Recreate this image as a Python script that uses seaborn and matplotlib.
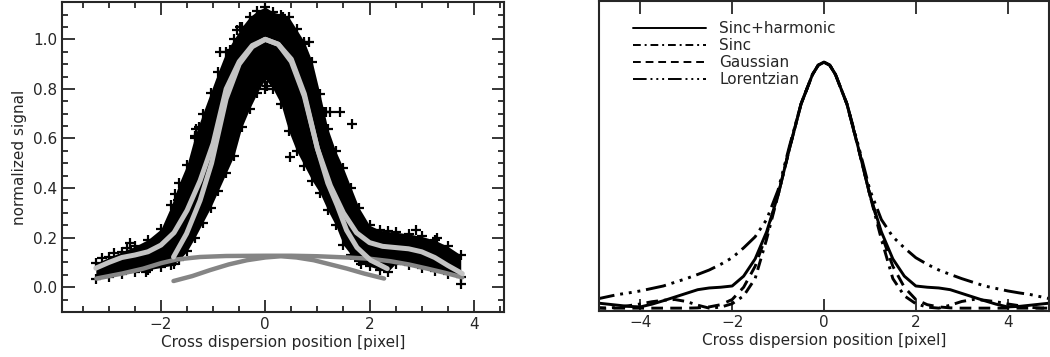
import numpy as np
import pandas as pd
import matplotlib
matplotlib.use("Agg")
import matplotlib.pyplot as plt
import seaborn as sns

# ---- left panel: measured profile (dense band + scattered points) ----
band_x = [-3.25, -3.0, -2.75, -2.5, -2.25, -2.0, -1.8, -1.65, -1.5, -1.35, -1.2, -1.05,
          -0.9, -0.75, -0.6, -0.45, -0.3, -0.15, 0.0, 0.15, 0.3, 0.45, 0.6, 0.75, 0.9,
          1.05, 1.2, 1.35, 1.5, 1.65, 1.8, 2.0, 2.2, 2.35, 2.5, 2.75, 3.0, 3.25, 3.5, 3.75]
band_hi = [0.097, 0.12, 0.143, 0.165, 0.192, 0.235, 0.33, 0.42, 0.495, 0.61, 0.70, 0.785,
           0.87, 0.95, 1.00, 1.05, 1.09, 1.115, 1.13, 1.11, 1.10, 1.09, 1.04, 0.99, 0.91,
           0.78, 0.64, 0.55, 0.48, 0.40, 0.32, 0.25, 0.23, 0.225, 0.222, 0.215, 0.205, 0.19, 0.165, 0.13]
band_lo = [0.035, 0.042, 0.052, 0.062, 0.07, 0.08, 0.088, 0.11, 0.145, 0.20, 0.26, 0.32,
           0.39, 0.46, 0.53, 0.645, 0.72, 0.785, 0.84, 0.80, 0.74, 0.63, 0.55, 0.49, 0.43,
           0.38, 0.31, 0.25, 0.17, 0.13, 0.105, 0.085, 0.07, 0.062, 0.095, 0.088, 0.078, 0.065, 0.052, 0.04]

out_x = [-3.14, -2.6, -2.66, -2.28, -1.73, -1.67, -1.35, -1.33, -1.28, -1.25, -0.87, -0.67,
         -0.54, -0.48, 0.0, 0.03, 0.48, 0.83, 0.74, 0.35, 1.06, 1.12, 1.17, 1.25, 1.44,
         1.67, 1.83, -1.76, 3.75, 2.9, 3.3, -2.9]
out_y = [0.116, 0.18, 0.16, 0.06, 0.378, 0.35, 0.60, 0.64, 0.646, 0.62, 0.95, 0.956,
         1.036, 1.05, 0.80, 0.81, 0.525, 0.99, 0.98, 1.09, 0.707, 0.707, 0.707, 0.707, 0.707,
         0.66, 0.095, 0.095, 0.015, 0.23, 0.20, 0.14]

# ---- left panel: fitted curves ----
fit_wide_x = [-3.25, -3.0, -2.75, -2.5, -2.25, -2.0, -1.75, -1.5, -1.25, -1.0, -0.75, -0.5,
              -0.25, 0.0, 0.25, 0.5, 0.75, 1.0, 1.25, 1.5, 1.75, 2.0, 2.25, 2.5, 2.75,
              3.0, 3.25, 3.5, 3.78]
fit_wide_y = [0.077, 0.10, 0.12, 0.13, 0.143, 0.17, 0.22, 0.31, 0.43, 0.58, 0.80, 0.91,
              0.975, 1.0, 0.98, 0.92, 0.78, 0.56, 0.41, 0.30, 0.22, 0.18, 0.165, 0.16, 0.155,
              0.143, 0.12, 0.088, 0.055]
fit_narrow_x = [-1.76, -1.51, -1.25, -1.03, -0.75, -0.5, -0.25, 0.0, 0.25, 0.5, 0.75, 1.0,
                1.2, 1.38, 1.56, 1.76, 2.02, 2.34]
fit_narrow_y = [0.122, 0.216, 0.35, 0.50, 0.76, 0.90, 0.97, 1.0, 0.98, 0.91, 0.77, 0.56,
                0.42, 0.33, 0.23, 0.16, 0.109, 0.075]
harm_wide_x = [-3.24, -2.75, -2.34, -2.0, -1.7, -1.25, -0.75, 0.0, 0.5, 1.0, 1.57, 2.0,
               2.4, 2.75, 3.11, 3.45, 3.78]
harm_wide_y = [0.035, 0.055, 0.075, 0.097, 0.112, 0.122, 0.126, 0.127, 0.127, 0.125, 0.12,
               0.115, 0.105, 0.092, 0.075, 0.058, 0.04]
harm_narrow_x = [-1.76, -1.4, -1.06, -0.7, -0.35, 0.0, 0.3, 0.6, 0.93, 1.25, 1.57, 1.9, 2.28]
harm_narrow_y = [0.025, 0.045, 0.069, 0.092, 0.109, 0.12, 0.125, 0.12, 0.109, 0.092, 0.075,
                 0.055, 0.035]

# ---- right panel: model profiles ----
model_x = [-5.0, -4.75, -4.5, -4.25, -4.0, -3.75, -3.5, -3.25, -3.0, -2.75, -2.5, -2.25,
           -2.0, -1.75, -1.5, -1.25, -1.0, -0.75, -0.5, -0.25, -0.125, 0.0, 0.125, 0.25,
           0.5, 0.75, 1.0, 1.25, 1.5, 1.75, 2.0, 2.25, 2.5, 2.75, 3.0, 3.25, 3.5, 3.75,
           4.0, 4.25, 4.5, 4.75, 5.0]
sinc_harm = [0.022, 0.017, 0.012, 0.007, 0.005, 0.016, 0.03, 0.045, 0.06, 0.075, 0.082, 0.085,
             0.09, 0.13, 0.20, 0.31, 0.46, 0.65, 0.83, 0.95, 0.988, 1.0, 0.988, 0.95,
             0.83, 0.65, 0.46, 0.31, 0.20, 0.13, 0.09, 0.085, 0.082, 0.075, 0.06, 0.045, 0.03, 0.016,
             0.005, 0.007, 0.012, 0.017, 0.022]
sinc = [0.003, 0.0, 0.003, 0.01, 0.017, 0.026, 0.032, 0.035, 0.027, 0.012, 0.0, 0.004,
        0.018, 0.05, 0.12, 0.28, 0.46, 0.65, 0.83, 0.95, 0.988, 1.0, 0.988, 0.95,
        0.83, 0.65, 0.46, 0.28, 0.12, 0.05, 0.018, 0.004, 0.0, 0.012, 0.027, 0.035, 0.032, 0.026,
        0.017, 0.01, 0.003, 0.0, 0.003]
gauss = [0.0, 0.0, 0.0, 0.0, 0.0, 0.0, 0.0, 0.0, 0.0, 0.001, 0.005, 0.014,
         0.035, 0.085, 0.17, 0.30, 0.46, 0.65, 0.83, 0.95, 0.988, 1.0, 0.988, 0.95,
         0.83, 0.65, 0.46, 0.30, 0.17, 0.085, 0.035, 0.014, 0.005, 0.001, 0.0, 0.0, 0.0, 0.0,
         0.0, 0.0, 0.0, 0.0, 0.0]
lorentz = [0.035, 0.045, 0.055, 0.062, 0.07, 0.08, 0.09, 0.105, 0.12, 0.137, 0.155, 0.178,
           0.205, 0.245, 0.29, 0.36, 0.48, 0.66, 0.83, 0.95, 0.988, 1.0, 0.988, 0.95,
           0.83, 0.66, 0.48, 0.36, 0.29, 0.245, 0.205, 0.178, 0.155, 0.137, 0.12, 0.105, 0.09, 0.08,
           0.07, 0.062, 0.055, 0.045, 0.035]
model_labels = ["Sinc+harmonic", "Sinc", "Gaussian", "Lorentzian"]

sns.set_style("ticks")
plt.rcParams["font.family"] = ["DejaVu Sans"]
plt.rcParams["axes.linewidth"] = 1.5
plt.rcParams["xtick.direction"] = "in"
plt.rcParams["ytick.direction"] = "in"

fig = plt.figure(figsize=(10.5, 3.57), dpi=100)
ax1 = fig.add_axes([0.059, 0.126, 0.421, 0.868])
ax2 = fig.add_axes([0.5705, 0.130, 0.4285, 0.866])

# left panel
ax1.fill_between(band_x, band_lo, band_hi, color="black", lw=0)
pts = pd.DataFrame({"x": band_x + band_x + out_x,
                    "y": band_hi + band_lo + out_y})
sns.scatterplot(data=pts, x="x", y="y", ax=ax1, marker="+", color="black",
                s=55, linewidth=1.6, legend=False, zorder=2)
for cx, cy in [(harm_wide_x, harm_wide_y), (harm_narrow_x, harm_narrow_y)]:
    sns.lineplot(x=cx, y=cy, ax=ax1, color="#858585", lw=3.2, estimator=None, sort=False, zorder=3)
for cx, cy in [(fit_wide_x, fit_wide_y), (fit_narrow_x, fit_narrow_y)]:
    sns.lineplot(x=cx, y=cy, ax=ax1, color="#c4c4c4", lw=3.6, estimator=None, sort=False, zorder=4)

ax1.set_xlim(-3.9, 4.58)
ax1.set_ylim(-0.1, 1.15)
ax1.set_xticks([-2, 0, 2, 4])
ax1.set_xticks(np.arange(-3.5, 4.6, 0.5), minor=True)
ax1.set_yticks(np.arange(0, 1.01, 0.2))
ax1.set_yticks(np.arange(-0.1, 1.15, 0.05), minor=True)
ax1.set_yticklabels([f"{v:.1f}" for v in np.arange(0, 1.01, 0.2)])
ax1.tick_params(which="both", top=True, right=True, width=1.3, labelsize=11)
ax1.tick_params(which="major", length=9)
ax1.tick_params(which="minor", length=4.5)
ax1.set_xlabel("Cross dispersion position [pixel]", fontsize=11, labelpad=2)
ax1.set_ylabel("normalized signal", fontsize=11, labelpad=4)

# right panel
styles = ["-", (0, (4, 2, 1, 2)), (0, (4, 2.5)), (0, (7, 2, 1, 2, 1, 2, 1, 2))]
for lab, vals, ls in zip(model_labels, [sinc_harm, sinc, gauss, lorentz], styles):
    sns.lineplot(x=model_x, y=vals, ax=ax2, color="black", lw=2.1, linestyle=ls,
                 label=lab, estimator=None, sort=False)

ax2.set_xlim(-4.9, 4.9)
ax2.set_ylim(-0.01, 1.247)
ax2.set_xticks([-4, -2, 0, 2, 4])
ax2.set_yticks([])
ax2.tick_params(which="major", top=True, length=9, width=1.3, labelsize=11)
ax2.set_xlabel("Cross dispersion position [pixel]", fontsize=11, labelpad=2)
ax2.set_ylabel("")
leg = ax2.legend(loc="upper left", bbox_to_anchor=(0.062, 0.955), frameon=False, fontsize=11,
                 handlelength=4.8, handletextpad=0.85, labelspacing=0.12, borderaxespad=0)
for h in leg.get_lines():
    h.set_linewidth(1.4)

fig.savefig("out.png", dpi=100)
